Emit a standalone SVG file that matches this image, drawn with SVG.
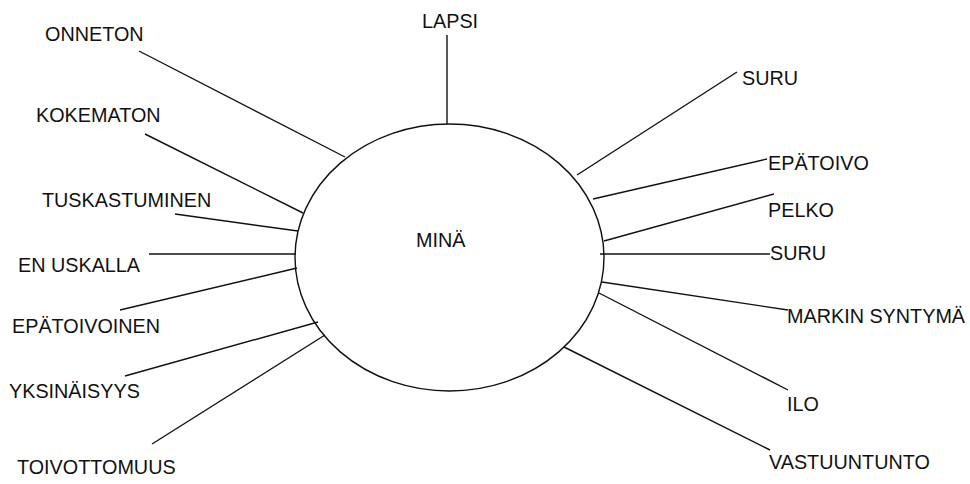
<svg xmlns="http://www.w3.org/2000/svg" width="970" height="484" viewBox="0 0 970 484">
<style>
text{font-family:"Liberation Sans",Arial,sans-serif;font-size:19.8px;fill:#111}
.c{stroke:#111;stroke-width:1.4;fill:none}
</style>
<rect width="970" height="484" fill="#fff"/>
<g id="connectors">
<line class="c" x1="447" y1="35" x2="447" y2="124"/>
<line class="c" x1="139" y1="51" x2="345" y2="157"/>
<line class="c" x1="145" y1="134" x2="303" y2="213"/>
<line class="c" x1="175" y1="214" x2="298" y2="231"/>
<line class="c" x1="149" y1="254" x2="296" y2="254"/>
<line class="c" x1="120" y1="310" x2="297" y2="268"/>
<line class="c" x1="125" y1="376" x2="318" y2="322"/>
<line class="c" x1="152" y1="444" x2="325" y2="335"/>
<line class="c" x1="737" y1="72" x2="577" y2="175"/>
<line class="c" x1="767" y1="159" x2="593" y2="199"/>
<line class="c" x1="774" y1="194" x2="604" y2="241"/>
<line class="c" x1="600" y1="254" x2="770" y2="254"/>
<line class="c" x1="602" y1="282" x2="788" y2="310"/>
<line class="c" x1="599" y1="293" x2="788" y2="390"/>
<line class="c" x1="564" y1="347" x2="770" y2="450"/>
</g>
<g id="mina"><ellipse class="c" cx="449.5" cy="257.5" rx="154.5" ry="133.5"/><text x="416" y="247">MINÄ</text></g>
<g id="lapsi"><text x="422" y="28">LAPSI</text></g>
<g id="onneton"><text x="45" y="41">ONNETON</text></g>
<g id="kokematon"><text x="36" y="122">KOKEMATON</text></g>
<g id="tuskastuminen"><text x="42" y="207">TUSKASTUMINEN</text></g>
<g id="en-uskalla"><text x="18" y="272">EN USKALLA</text></g>
<g id="epatoivoinen"><text x="12" y="333">EPÄTOIVOINEN</text></g>
<g id="yksinaisyys"><text x="9" y="398">YKSINÄISYYS</text></g>
<g id="toivottomuus"><text x="17" y="474">TOIVOTTOMUUS</text></g>
<g id="suru1"><text x="742" y="85">SURU</text></g>
<g id="epatoivo"><text x="768" y="170">EPÄTOIVO</text></g>
<g id="pelko"><text x="768" y="217">PELKO</text></g>
<g id="suru2"><text x="770" y="260">SURU</text></g>
<g id="markin"><text x="787" y="323">MARKIN SYNTYMÄ</text></g>
<g id="ilo"><text x="787" y="411">ILO</text></g>
<g id="vastuuntunto"><text x="769" y="469">VASTUUNTUNTO</text></g>
</svg>
